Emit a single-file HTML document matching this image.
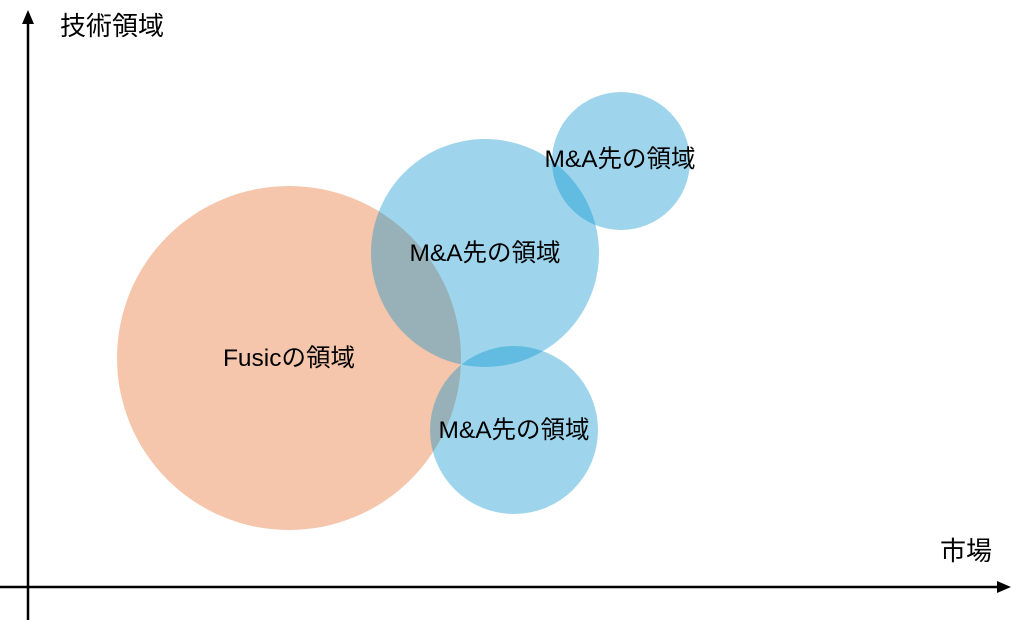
<!DOCTYPE html>
<html><head><meta charset="utf-8"><style>
html,body{margin:0;padding:0;background:#fff;}
svg{display:block;}
text{font-family:"Liberation Sans","Noto Sans CJK JP",sans-serif;fill:#000;}
</style></head><body>
<svg width="1024" height="621" viewBox="0 0 1024 621" xmlns="http://www.w3.org/2000/svg">
<circle cx="289" cy="358" r="172" fill="#F5C6AB"/>
<circle cx="485" cy="253" r="114" fill="rgba(0,145,205,0.38)"/>
<circle cx="621" cy="161" r="69" fill="rgba(0,145,205,0.38)"/>
<circle cx="514" cy="430" r="84" fill="rgba(0,145,205,0.38)"/>
<line x1="28" y1="620" x2="28" y2="22" stroke="#000" stroke-width="2.5"/>
<polygon points="28,10 22,24 34,24" fill="#000"/>
<line x1="0" y1="587" x2="998" y2="587" stroke="#000" stroke-width="2.5"/>
<polygon points="1011,587 997,581 997,593" fill="#000"/>
<text x="60" y="35" font-size="26">技術領域</text>
<text x="940" y="560" font-size="26">市場</text>
<text x="289" y="366" font-size="24.5" text-anchor="middle">Fusicの領域</text>
<text x="485" y="261" font-size="24.5" text-anchor="middle">M&amp;A先の領域</text>
<text x="620" y="167" font-size="24.5" text-anchor="middle">M&amp;A先の領域</text>
<text x="514" y="438" font-size="24.5" text-anchor="middle">M&amp;A先の領域</text>
</svg>
</body></html>
